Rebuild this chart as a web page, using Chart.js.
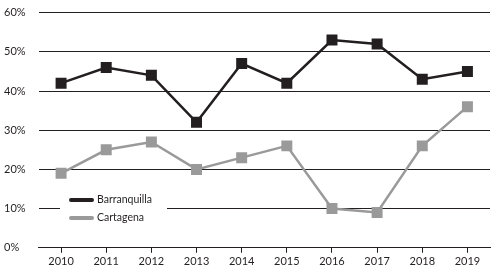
<!DOCTYPE html>
<html>
<head>
<meta charset="utf-8">
<script src="https://cdn.jsdelivr.net/npm/chart.js@4"></script>
<style>
  html, body { margin: 0; padding: 0; background: #fff; }
  #wrap { width: 494px; height: 279px; }
</style>
</head>
<body>
<div id="wrap"><canvas id="chart" width="494" height="279"></canvas></div>
<script>
// Data
const years = ["2010", "2011", "2012", "2013", "2014", "2015", "2016", "2017", "2018", "2019"];
const barranquilla = [42, 46, 44, 32, 47, 42, 53, 52, 43, 45];
const cartagena = [19, 25, 27, 20, 23, 26, 10, 9, 26, 36];
const yTicks = [0, 10, 20, 30, 40, 50, 60];

const FONT = "Lato, sans-serif";

// legend drawn inside the plot, over the grid
const innerLegend = {
    id: "innerLegend",
    afterDatasetsDraw(chart) {
        const ctx = chart.ctx;
        const x0 = 68, y0 = 200, gap = 18;
        ctx.save();
        ctx.fillStyle = "#fff";
        ctx.fillRect(x0 - 8, y0 - 9, 107, 36);
        chart.data.datasets.forEach((ds, i) => {
            const y = y0 + i * gap;
            ctx.strokeStyle = ds.borderColor;
            ctx.lineWidth = 4;
            ctx.lineCap = "round";
            ctx.beginPath();
            ctx.moveTo(x0 + 3, y);
            ctx.lineTo(x0 + 24, y);
            ctx.stroke();
            ctx.fillStyle = "#231f20";
            ctx.font = "10.5px " + FONT;
            ctx.textBaseline = "middle";
            ctx.fillText(ds.label, x0 + 29, y);
        });
        ctx.restore();
    }
};

new Chart(document.querySelector("#chart"), {
    type: "line",
    data: {
        labels: years,
        datasets: [
            {
                label: "Barranquilla",
                data: barranquilla,
                borderColor: "#231f20",
                backgroundColor: "#231f20",
                borderWidth: 2.5,
                pointStyle: "rect",
                pointRadius: 6,
                tension: 0
            },
            {
                label: "Cartagena",
                data: cartagena,
                borderColor: "#9a9a9a",
                backgroundColor: "#9a9a9a",
                borderWidth: 2.5,
                pointStyle: "rect",
                pointRadius: 6,
                tension: 0
            }
        ]
    },
    options: {
        responsive: false,
        animation: false,
        layout: { autoPadding: false, padding: { left: 4, right: 4, top: 11, bottom: 9 } },
        plugins: {
            legend: { display: false },
            tooltip: { enabled: false }
        },
        scales: {
            x: {
                offset: true,
                grid: {
                    offset: false,
                    drawOnChartArea: false,
                    drawTicks: true,
                    tickLength: 5,
                    color: "#231f20"
                },
                border: { display: true, color: "#231f20", width: 1 },
                ticks: {
                    color: "#231f20",
                    font: { family: FONT, size: 11 },
                    padding: 2,
                    maxRotation: 0
                }
            },
            y: {
                min: 0,
                max: 60,
                afterBuildTicks: (scale) => {
                    scale.ticks = yTicks.map(v => ({value: v}));
                },
                afterFit: (scale) => { scale.width = 34.5; },
                grid: {
                    color: "#231f20",
                    lineWidth: 1,
                    drawTicks: false
                },
                border: { display: false },
                ticks: {
                    color: "#231f20",
                    font: { family: FONT, size: 11 },
                    crossAlign: "far",
                    padding: 6,
                    callback: (v) => v + "%"
                }
            }
        }
    },
    plugins: [innerLegend]
});
</script>
</body>
</html>
